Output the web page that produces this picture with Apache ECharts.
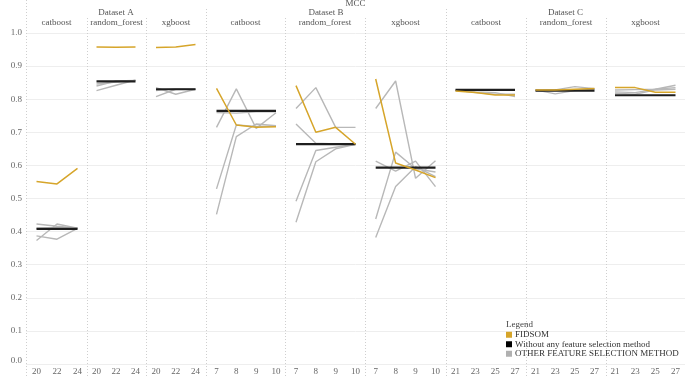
<!DOCTYPE html>
<html><head><meta charset="utf-8">
<script src="https://cdn.jsdelivr.net/npm/echarts@6/dist/echarts.min.js"></script>
<style>html,body{margin:0;padding:0;background:#fff}#c{width:685px;height:376px}</style>
</head><body><div id="c"></div>
<script>
// ---- data ----
const catsA = ['20','22','24'];
const catsB = ['7','8','9','10'];
const catsC = ['21','23','25','27'];
const datasets = ['Dataset A','Dataset B','Dataset C'];
const models = ['catboost','random_forest','xgboost'];
const yTicks = [0,0.1,0.2,0.3,0.4,0.5,0.6,0.7,0.8,0.9,1.0];

const fidsomA_cat = [0.551,0.544,0.591];
const baseA_cat   = [0.408,0.408,0.408];
const otherA_cat  = [[0.423,0.416,0.41],[0.373,0.423,0.41],[0.387,0.377,0.41],[0.41,0.412,0.41]];
const fidsomA_rf  = [0.958,0.957,0.958];
const baseA_rf    = [0.854,0.854,0.854];
const otherA_rf   = [[0.826,0.842,0.858],[0.840,0.855,0.857],[0.846,0.852,0.856]];
const fidsomA_xgb = [0.956,0.958,0.965];
const baseA_xgb   = [0.830,0.830,0.830];
const otherA_xgb  = [[0.808,0.830,0.830],[0.835,0.815,0.830],[0.826,0.832,0.830]];

const fidsomB_cat = [0.833,0.722,0.715,0.717];
const baseB_cat   = [0.765,0.765,0.765,0.765];
const otherB_cat  = [[0.715,0.831,0.712,0.759],[0.529,0.722,0.718,0.718],[0.452,0.687,0.725,0.72],[0.760,0.758,0.762,0.762]];
const fidsomB_rf  = [0.841,0.700,0.715,0.664];
const baseB_rf    = [0.664,0.664,0.664,0.664];
const otherB_rf   = [[0.772,0.835,0.715,0.715],[0.725,0.667,0.665,0.665],[0.492,0.645,0.655,0.664],[0.428,0.611,0.65,0.664]];
const fidsomB_xgb = [0.861,0.607,0.586,0.563];
const baseB_xgb   = [0.593,0.593,0.593,0.593];
const otherB_xgb  = [[0.772,0.855,0.561,0.614],[0.613,0.583,0.613,0.536],[0.438,0.640,0.59,0.58],[0.382,0.536,0.596,0.566]];

const fidsomC_cat = [0.825,0.82,0.813,0.813];
const baseC_cat   = [0.828,0.828,0.828,0.828];
const otherC_cat  = [[0.825,0.822,0.82,0.808],[0.828,0.82,0.815,0.815]];
const fidsomC_rf  = [0.828,0.828,0.830,0.832];
const baseC_rf    = [0.826,0.826,0.826,0.826];
const otherC_rf   = [[0.828,0.816,0.826,0.83],[0.826,0.828,0.838,0.832]];
const fidsomC_xgb = [0.835,0.835,0.821,0.821];
const baseC_xgb   = [0.812,0.812,0.812,0.812];
const otherC_xgb  = [[0.828,0.829,0.83,0.842],[0.822,0.82,0.83,0.835],[0.818,0.815,0.828,0.83]];

const NAME_F = 'FIDSOM', NAME_B = 'Without any feature selection method', NAME_O = 'OTHER FEATURE SELECTION METHOD';

// ---- layout ----
const FONT = 'Liberation Serif';
const TXT = '#666';
const panels = [
  {cats:catsA, f:fidsomA_cat, b:baseA_cat, o:otherA_cat, x0:36.5, x1:77.5, L:26, R:87},
  {cats:catsA, f:fidsomA_rf,  b:baseA_rf,  o:otherA_rf,  x0:96.5, x1:135.5, L:87, R:146},
  {cats:catsA, f:fidsomA_xgb, b:baseA_xgb, o:otherA_xgb, x0:156, x1:195.5, L:146, R:206},
  {cats:catsB, f:fidsomB_cat, b:baseB_cat, o:otherB_cat, x0:216.5, x1:276, L:206, R:285},
  {cats:catsB, f:fidsomB_rf,  b:baseB_rf,  o:otherB_rf,  x0:296, x1:355.5, L:285, R:365},
  {cats:catsB, f:fidsomB_xgb, b:baseB_xgb, o:otherB_xgb, x0:375.7, x1:435.5, L:365, R:446},
  {cats:catsC, f:fidsomC_cat, b:baseC_cat, o:otherC_cat, x0:455.5, x1:515, L:446, R:526},
  {cats:catsC, f:fidsomC_rf,  b:baseC_rf,  o:otherC_rf,  x0:535.5, x1:594.5, L:526, R:606},
  {cats:catsC, f:fidsomC_xgb, b:baseC_xgb, o:otherC_xgb, x0:615, x1:675.5, L:606, R:685}
];
const TOP = 33, BOTTOM = 12;

const grid = [{left:26, right:0, top:TOP, bottom:BOTTOM, outerBoundsMode:'none', containLabel:false}];
const xAxis = [{gridIndex:0, type:'value', show:false}];
const yAxis = [{
  gridIndex:0, type:'value', min:0, max:1, interval:0.1,
  name:'Chosen Metric', nameLocation:'middle', nameGap:19, nameRotate:90,
  nameTextStyle:{fontFamily:FONT, fontSize:9, color:'#555'},
  axisLine:{show:false}, axisTick:{show:false},
  axisLabel:{fontFamily:FONT, fontSize:9, color:TXT, margin:4, inside:false,
    formatter:v => Math.abs(v) < 1e-9 ? '{z|0.0}' : v.toFixed(1),
    rich:{z:{fontFamily:FONT, fontSize:9, color:TXT, padding:[0,0,7,0]}}},
  splitLine:{show:true, lineStyle:{color:'#eeeeee', width:1}}
}];
const series = [];
panels.forEach((p, i) => {
  const gi = i + 1;
  grid.push({left:p.x0, width:p.x1 - p.x0, top:TOP, bottom:BOTTOM, outerBoundsMode:'none', containLabel:false});
  xAxis.push({gridIndex:gi, type:'category', data:p.cats, boundaryGap:false,
    axisLine:{show:false}, axisTick:{show:false}, splitLine:{show:false},
    axisLabel:{fontFamily:FONT, fontSize:9, color:TXT, margin:3, interval:0}});
  yAxis.push({gridIndex:gi, type:'value', min:0, max:1, show:false, splitLine:{show:false}});
  p.o.forEach(arr => series.push({type:'line', name:NAME_O, xAxisIndex:gi, yAxisIndex:gi, data:arr,
    symbol:'none', z:2, lineStyle:{color:'#b8b8b8', width:1.4}, itemStyle:{color:'#b0b0b0'}, silent:true}));
  series.push({type:'line', name:NAME_B, xAxisIndex:gi, yAxisIndex:gi, data:p.b,
    symbol:'none', z:3, lineStyle:{color:'#1e1e1e', width:2.2}, itemStyle:{color:'#000'}, silent:true});
  series.push({type:'line', name:NAME_F, xAxisIndex:gi, yAxisIndex:gi, data:p.f,
    symbol:'none', z:4, lineStyle:{color:'#d6a52a', width:1.5}, itemStyle:{color:'#d6a52a'}, silent:true});
});

// separators & headers
const graphic = [];
const dsBounds = [26, 206, 446];
panels.forEach((p, i) => {
  const isDs = dsBounds.includes(p.L);
  graphic.push({type:'line', silent:true, z:1,
    shape:{x1:p.L+0.5, y1:(p.L===26?0:(isDs?9:18)), x2:p.L+0.5, y2:376},
    style:{stroke:'#cfcfcf', lineWidth:1, lineDash:[1,2]}});
  graphic.push({type:'text', silent:true, x:(p.L+p.R)/2, y:23,
    style:{text:models[i%3], font:'9px "'+FONT+'"', fill:'#555', textAlign:'center', textVerticalAlign:'middle'}});
});
datasets.forEach((d, k) => {
  const a = panels[k*3], b = panels[k*3+2];
  graphic.push({type:'text', silent:true, x:(a.L+b.R)/2, y:13,
    style:{text:d, font:'9px "'+FONT+'"', fill:'#555', textAlign:'center', textVerticalAlign:'middle'}});
});
graphic.push({type:'text', silent:true, x:355.5, y:4,
  style:{text:'MCC', font:'9px "'+FONT+'"', fill:'#555', textAlign:'center', textVerticalAlign:'middle'}});
graphic.push({type:'text', silent:true, x:506, y:325,
  style:{text:'Legend', font:'9px "'+FONT+'"', fill:'#444', textAlign:'left', textVerticalAlign:'middle'}});

const option = {
  animation:false,
  backgroundColor:'#fff',
  grid, xAxis, yAxis, series, graphic,
  legend:{
    orient:'vertical', left:501, top:325, itemWidth:6, itemHeight:6, itemGap:0,
    icon:'rect', selectedMode:false,
    textStyle:{fontFamily:FONT, fontSize:9, color:'#333', lineHeight:9.5, padding:[0,0,0,-2]},
    data:[{name:NAME_F, itemStyle:{color:'#d6a52a'}},
          {name:NAME_B, itemStyle:{color:'#000'}},
          {name:NAME_O, itemStyle:{color:'#b0b0b0'}}]
  }
};
const chart = echarts.init(document.getElementById('c'), null, {renderer:'canvas'});
chart.setOption(option);
</script></body></html>
